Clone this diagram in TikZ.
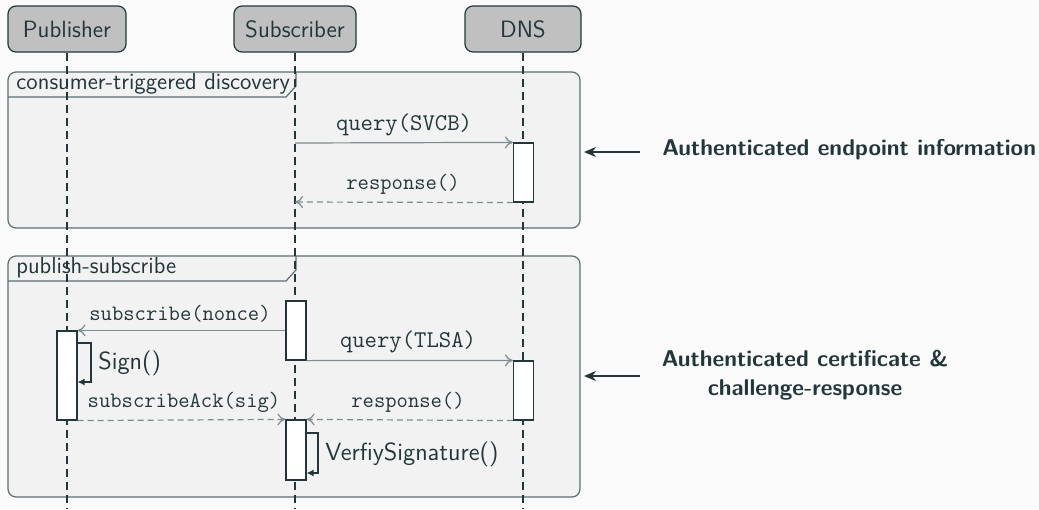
\documentclass[tikz,border=0pt]{standalone}
\usepackage{fontspec}
\usetikzlibrary{arrows.meta}
\definecolor{ink}{HTML}{23373B}
\definecolor{msgline}{HTML}{7D8D8F}
\definecolor{frameline}{HTML}{5E6E71}
\definecolor{framefill}{HTML}{F2F2F2}
\definecolor{pagebg}{HTML}{FAFAFA}
\definecolor{actorfill}{HTML}{C0C0C0}
\tikzset{
  actor/.style={draw=ink, fill=actorfill, rounded corners=4pt, line width=0.6pt,
    minimum height=23pt, inner sep=0pt, text=ink, font=\sffamily\fontsize{11.8}{14}\selectfont},
  lifeline/.style={draw=ink, line width=0.7pt, dash pattern=on 4pt off 2.5pt},
  sdframe/.style={draw=frameline, fill=framefill, rounded corners=4pt, line width=0.6pt},
  sdtab/.style={draw=frameline, line width=0.6pt},
  tablabel/.style={anchor=west, text=ink, inner sep=0pt, font=\sffamily\fontsize{11.6}{14}\selectfont},
  act/.style={draw=ink, fill=white, line width=0.6pt, minimum width=10pt, inner sep=0pt},
  msg/.style={draw=msgline, line width=0.6pt, -{To[length=4pt,width=6pt]}},
  reply/.style={msg, dash pattern=on 3pt off 2pt},
  selfcall/.style={draw=ink, line width=0.6pt, -{Latex[length=3.5pt,width=3.5pt]}},
  msglabel/.style={text=ink, font=\ttfamily\fontsize{11}{13}\selectfont, inner sep=0pt},
  querylabel/.style={msglabel, font=\ttfamily\fontsize{12}{14}\selectfont},
  selflabel/.style={text=ink, anchor=west, inner sep=0pt, font=\sffamily\fontsize{12.4}{15}\selectfont},
  note/.style={text=ink, font=\sffamily\bfseries\fontsize{11.4}{14.5}\selectfont, inner sep=0pt},
  bigarrow/.style={draw=ink, line width=1.1pt, -{Stealth[length=6pt,width=5pt]}}
}
\begin{document}
\begin{tikzpicture}[x=0.5pt, y=-0.5pt, font=\sffamily\fontsize{11}{13}\selectfont]
  \fill[pagebg] (0,0) rectangle (1039,509);
  \useasboundingbox (0,0) rectangle (1039,509);

  % combined fragments
  \draw[sdframe] (8,72) rectangle (580,228);
  \draw[sdtab] (8,97) -- (286,97) -- (296,86) -- (296,72);
  \node[tablabel] (tab1) at (16,84) {consumer-triggered discovery};

  \draw[sdframe] (8,256) rectangle (580,497);
  \draw[sdtab] (8,281) -- (286,281) -- (296,270) -- (296,256);
  \node[tablabel] (tab2) at (16,268) {publish-subscribe};

  % participants
  \node[actor, minimum width=59pt] (pub) at (67,29) {Publisher};
  \node[actor, minimum width=61pt] (sub) at (295,29) {Subscriber};
  \node[actor, minimum width=58pt] (dns) at (523,29) {DNS};

  \coordinate (pubEnd) at (67,509);
  \coordinate (subEnd) at (295,509);
  \coordinate (dnsEnd) at (523,509);
  \draw[lifeline] (pub.south) -- (pubEnd);
  \draw[lifeline] (sub.south) -- (subEnd);
  \draw[lifeline] (dns.south) -- (dnsEnd);

  % activations
  \node[act, minimum height=29.5pt] (dnsA) at (523.5,172.5) {};
  \node[act, minimum height=29.5pt] (subA) at (296,330.5) {};
  \node[act, minimum height=44.5pt] (pubA) at (67,375.5) {};
  \node[act, minimum height=29.5pt] (dnsB) at (523.5,390.5) {};
  \node[act, minimum height=30pt] (subB) at (296,450) {};

  % consumer-triggered discovery
  \coordinate (q1) at (295,143);
  \coordinate (r1) at (295,202);
  \draw[msg] (q1) -- (dnsA.north west);
  \node[querylabel] (q1lab) at (404,125) {query(SVCB)};
  \draw[reply] (dnsA.south west) -- (r1);
  \node[msglabel] (r1lab) at (403,184) {response()};

  % publish-subscribe
  \draw[msg] (subA.west |- pubA.north) -- (pubA.north east);
  \node[msglabel] (s1lab) at (180,314) {subscribe(nonce)};

  \draw[msg] (subA.south east) -- (dnsB.north west);
  \node[querylabel] (q2lab) at (408,342) {query(TLSA)};

  \coordinate (sg1) at (91,343);
  \coordinate (sg2) at (91,382);
  \draw[selfcall] (pubA.east |- sg1) -- (sg1) -- (sg2) -- (pubA.east |- sg2);
  \node[selflabel] (sglab) at (98,363) {Sign()};

  \draw[reply] (pubA.south east) -- (subB.north west);
  \node[msglabel] (salab) at (184,402) {subscribeAck(sig)};

  \draw[reply] (dnsB.south west) -- (subB.north east);
  \node[msglabel] (r2lab) at (408,402) {response()};

  \coordinate (vs1) at (318,433);
  \coordinate (vs2) at (318,473);
  \draw[selfcall] (subB.east |- vs1) -- (vs1) -- (vs2) -- (subB.east |- vs2);
  \node[selflabel] (vslab) at (325,454) {VerfiySignature()};

  % annotations
  \node[note, anchor=west] (n1) at (662,150) {Authenticated endpoint information};
  \coordinate (n1s) at (640,152);
  \coordinate (n1e) at (584,152);
  \draw[bigarrow] (n1s) -- (n1e);

  \node[note, align=center] (n2) at (805,375) {Authenticated certificate \&\\challenge-response};
  \coordinate (n2s) at (640,376);
  \coordinate (n2e) at (584,376);
  \draw[bigarrow] (n2s) -- (n2e);
\end{tikzpicture}
\end{document}
